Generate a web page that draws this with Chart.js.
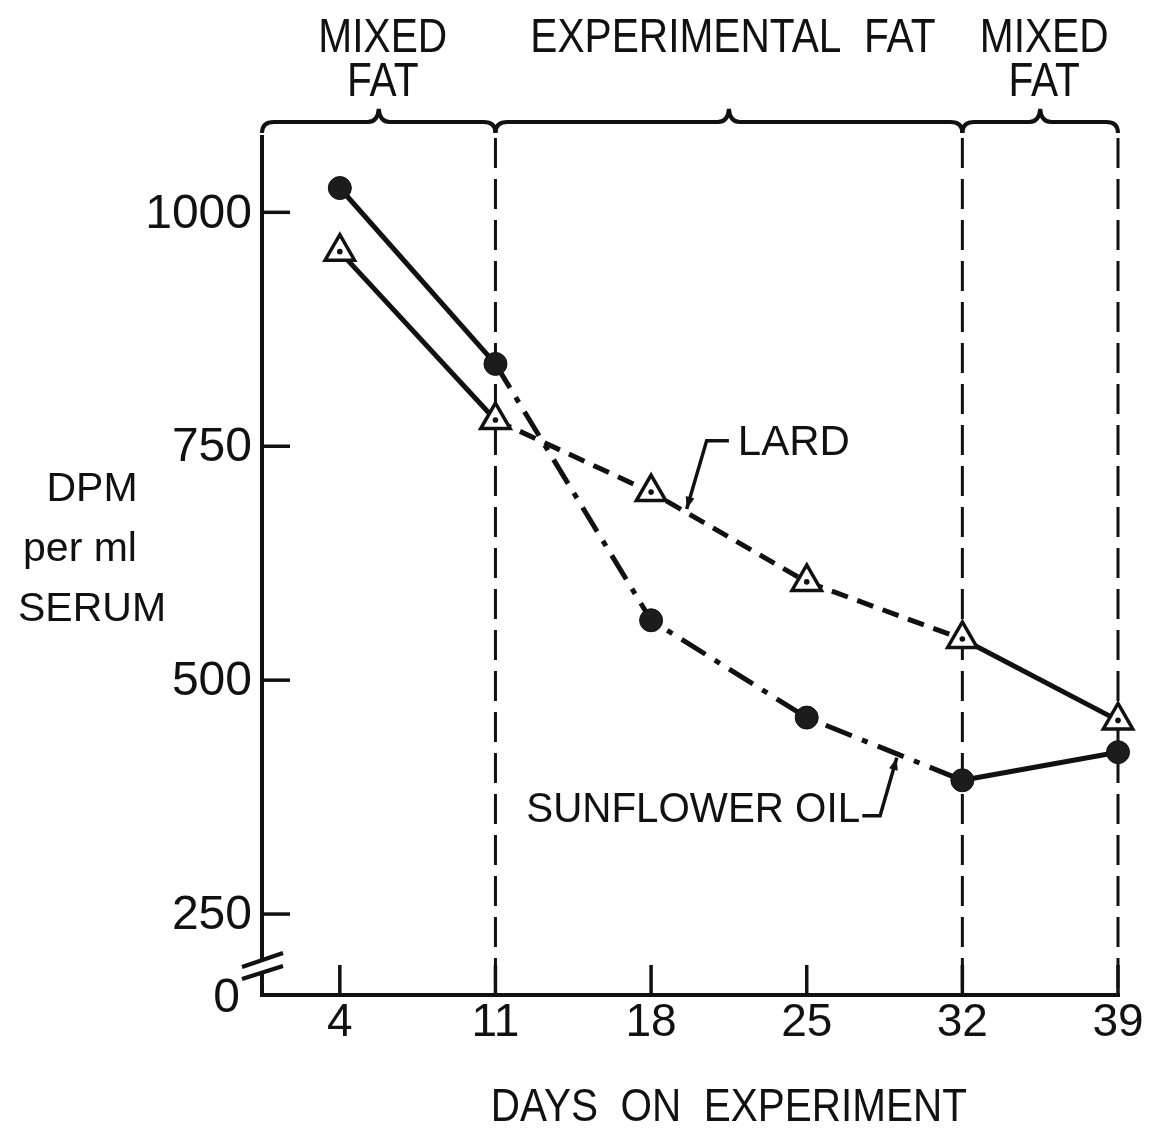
<!DOCTYPE html>
<html>
<head>
<meta charset="utf-8">
<script src="https://cdn.jsdelivr.net/npm/chart.js@4.4.1/dist/chart.umd.min.js"></script>
<style>
  html, body { margin: 0; padding: 0; background: #fff; }
  #wrap { width: 1150px; height: 1133px; }
</style>
</head>
<body>
<div id="wrap"><canvas id="chart" width="1150" height="1133"></canvas></div>
<script>
// values
const days = [4, 11, 18, 25, 32, 39];
const sunflowerOil = [1026, 838, 564, 460, 393, 423];
const lard = [958, 778, 701, 605, 544, 457];
const yTicks = [250, 500, 750, 1000];

// diet periods along the top
const periodLabels = [['MIXED', 'FAT'], ['EXPERIMENTAL  FAT'], ['MIXED', 'FAT']];
const periodStarts = [0.5, 11, 32];
const periodEnds = [11, 32, 39];
const dietChanges = [11, 32, 39];

const INK = '#111';
const FONT = '"Liberation Sans", Arial, sans-serif';

// middle part (day 11 -> 32) is dashed / dash-dot
const midSegment = dash => ctx =>
  (ctx.p0DataIndex >= 1 && ctx.p1DataIndex <= 4) ? dash : undefined;

// lettering on the original is condensed, squeeze it horizontally
function narrowText(ctx, text, x, y, sx) {
  ctx.save();
  ctx.translate(x, y);
  ctx.scale(sx, 1);
  ctx.fillText(text, 0, 0);
  ctx.restore();
}

function brace(ctx, x1, x2, y) {
  const mid = (x1 + x2) / 2;
  ctx.beginPath();
  ctx.moveTo(x1, y + 11);
  ctx.quadraticCurveTo(x1, y, x1 + 12, y);
  ctx.lineTo(mid - 11, y);
  ctx.quadraticCurveTo(mid - 1, y, mid, y - 13);
  ctx.quadraticCurveTo(mid + 1, y, mid + 11, y);
  ctx.lineTo(x2 - 12, y);
  ctx.quadraticCurveTo(x2, y, x2, y + 11);
  ctx.stroke();
}

function leader(ctx, pts) {
  ctx.beginPath();
  ctx.moveTo(pts[0][0], pts[0][1]);
  for (let i = 1; i < pts.length; i++) ctx.lineTo(pts[i][0], pts[i][1]);
  ctx.stroke();
  // small arrow head at the end
  const [ax, ay] = pts[pts.length - 2];
  const [bx, by] = pts[pts.length - 1];
  const a = Math.atan2(by - ay, bx - ax);
  ctx.beginPath();
  ctx.moveTo(bx, by);
  ctx.lineTo(bx - 13 * Math.cos(a - 0.35), by - 13 * Math.sin(a - 0.35));
  ctx.lineTo(bx - 13 * Math.cos(a + 0.35), by - 13 * Math.sin(a + 0.35));
  ctx.closePath();
  ctx.fill();
}

const framePlugin = {
  id: 'frame',
  beforeDatasetsDraw(chart) {
    const { ctx, chartArea: area, scales: { x, y } } = chart;
    const bottom = area.bottom;
    const left = area.left;
    ctx.save();
    ctx.strokeStyle = INK;
    ctx.fillStyle = INK;
    ctx.lineCap = 'butt';

    // dashed verticals where the diet changes
    ctx.lineWidth = 3;
    ctx.setLineDash([30, 11]);
    dietChanges.forEach(d => {
      const px = x.getPixelForValue(d);
      ctx.beginPath();
      ctx.moveTo(px, area.top + 8);
      ctx.lineTo(px, bottom);
      ctx.stroke();
    });
    ctx.setLineDash([]);

    // braces + period labels
    ctx.lineWidth = 4;
    const braceY = area.top - 8;
    ctx.font = '49px ' + FONT;
    ctx.textAlign = 'center';
    ctx.textBaseline = 'middle';
    periodStarts.forEach((s, i) => {
      const x1 = x.getPixelForValue(s);
      const x2 = x.getPixelForValue(periodEnds[i]);
      brace(ctx, x1, x2, braceY);
      periodLabels[i].forEach((t, j) => {
        narrowText(ctx, t, (x1 + x2) / 2 + 4, 38 + j * 44, 0.83);
      });
    });

    // axes
    ctx.lineWidth = 4;
    ctx.beginPath();
    ctx.moveTo(left, area.top + 5);
    ctx.lineTo(left, bottom - 36);
    ctx.moveTo(left, bottom - 22);
    ctx.lineTo(left, bottom);
    ctx.lineTo(x.getPixelForValue(days[days.length - 1]) + 2, bottom);
    ctx.stroke();

    // axis break
    ctx.beginPath();
    ctx.moveTo(left - 20, bottom - 28);
    ctx.lineTo(left + 21, bottom - 42);
    ctx.moveTo(left - 20, bottom - 16);
    ctx.lineTo(left + 21, bottom - 29);
    ctx.stroke();

    // y ticks (inward) and labels
    ctx.lineWidth = 3.5;
    ctx.font = '48px ' + FONT;
    ctx.textAlign = 'right';
    yTicks.forEach(v => {
      const py = y.getPixelForValue(v);
      ctx.beginPath();
      ctx.moveTo(left, py);
      ctx.lineTo(left + 28, py);
      ctx.stroke();
      ctx.fillText(String(v), left - 10, py + 2);
    });
    ctx.fillText('0', left - 22, bottom + 4);

    // x ticks (inward) and labels
    ctx.font = '46px ' + FONT;
    ctx.textAlign = 'center';
    days.forEach(d => {
      const px = x.getPixelForValue(d);
      ctx.beginPath();
      ctx.moveTo(px, bottom);
      ctx.lineTo(px, bottom - 30);
      ctx.stroke();
      ctx.fillText(String(d), px, bottom + 28);
    });

    // axis titles
    ctx.font = '46px ' + FONT;
    narrowText(ctx, 'DAYS  ON  EXPERIMENT', x.getPixelForValue(21.5), bottom + 113, 0.88);
    ctx.font = '41px ' + FONT;
    ctx.fillText('DPM', 92, 490);
    ctx.fillText('per ml', 80, 550);
    ctx.fillText('SERUM', 92, 610);

    // series labels with leaders
    ctx.font = '42px ' + FONT;
    ctx.textAlign = 'left';
    ctx.fillText('LARD', x.getPixelForValue(21.9), y.getPixelForValue(753));
    ctx.textAlign = 'right';
    narrowText(ctx, 'SUNFLOWER OIL', x.getPixelForValue(27.4), y.getPixelForValue(361), 0.96);
    ctx.lineWidth = 3.5;
    leader(ctx, [
      [x.getPixelForValue(21.5), y.getPixelForValue(756)],
      [x.getPixelForValue(20.5), y.getPixelForValue(756)],
      [x.getPixelForValue(19.6), y.getPixelForValue(683)]
    ]);
    leader(ctx, [
      [x.getPixelForValue(27.5), y.getPixelForValue(355)],
      [x.getPixelForValue(28.3), y.getPixelForValue(355)],
      [x.getPixelForValue(29.05), y.getPixelForValue(417)]
    ]);
    ctx.restore();
  },
  afterDatasetsDraw(chart) {
    // centre dot inside each triangle
    const { ctx } = chart;
    const meta = chart.getDatasetMeta(1);
    ctx.save();
    ctx.fillStyle = INK;
    meta.data.forEach(pt => {
      ctx.beginPath();
      ctx.arc(pt.x, pt.y, 2.8, 0, Math.PI * 2);
      ctx.fill();
    });
    ctx.restore();
  }
};

new Chart(document.getElementById('chart'), {
  type: 'line',
  data: {
    datasets: [
      {
        label: 'Sunflower oil',
        data: days.map((d, i) => ({ x: d, y: sunflowerOil[i] })),
        borderColor: INK,
        borderWidth: 5,
        borderCapStyle: 'butt',
        pointStyle: 'circle',
        pointRadius: 11.5,
        pointBackgroundColor: '#1c1c1c',
        pointBorderColor: INK,
        pointBorderWidth: 1,
        segment: { borderDash: midSegment([28, 11, 6, 11]) },
        clip: false,
        tension: 0,
      },
      {
        label: 'Lard',
        data: days.map((d, i) => ({ x: d, y: lard[i] })),
        borderColor: INK,
        borderWidth: 5,
        borderCapStyle: 'butt',
        pointStyle: 'triangle',
        pointRadius: 17,
        pointBackgroundColor: '#fff',
        pointBorderColor: INK,
        pointBorderWidth: 3.5,
        segment: { borderDash: midSegment([17, 10]) },
        clip: false,
        tension: 0,
      },
    ],
  },
  options: {
    responsive: false,
    animation: false,
    devicePixelRatio: 1,
    layout: { padding: { left: 262, right: 32, top: 130, bottom: 138 } },
    plugins: { legend: { display: false }, tooltip: { enabled: false } },
    scales: {
      x: { type: 'linear', min: 0.5, max: 39, display: false },
      y: { type: 'linear', min: 163.5, max: 1088, display: false },
    },
  },
  plugins: [framePlugin],
});
</script>
</body>
</html>
